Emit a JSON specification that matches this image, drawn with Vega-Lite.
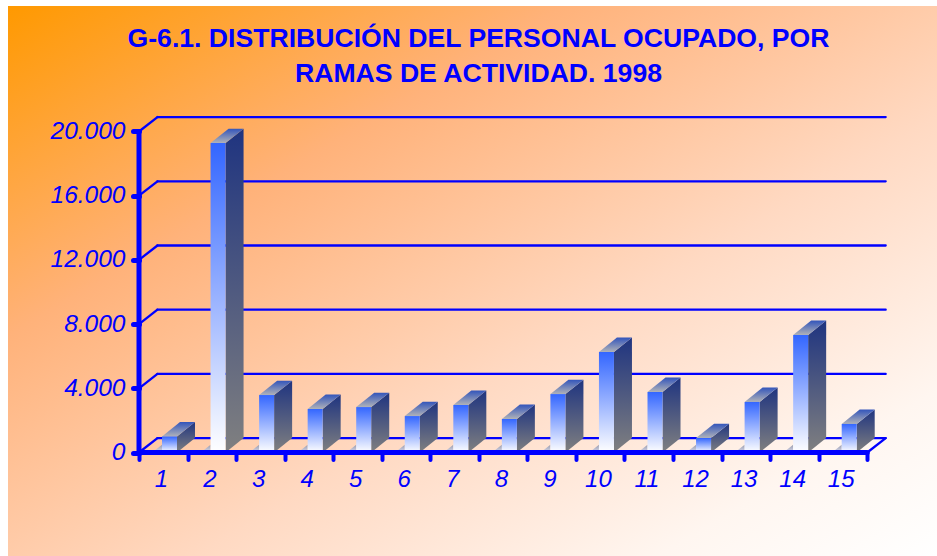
{
"$schema":"https://vega.github.io/schema/vega-lite/v6.json",
"width":937,"height":556,"autosize":{"type":"none"},"padding":0,"background":"#FFFFFF",
"config":{"view":{"stroke":null},"axis":{"grid":false,"domain":false}},
"title":{"text":["G-6.1. DISTRIBUCIÓN DEL PERSONAL OCUPADO, POR","RAMAS DE ACTIVIDAD. 1998"],"anchor":"middle","orient":"top","baseline":"top","offset":-88,"dx":10,"fontSize":26.6,"lineHeight":35.5,"font":"Liberation Sans","fontWeight":"bold","color":"#0000FF"},
"datasets":{
"bars":[{"bar":1,"value":1000},{"bar":2,"value":19280},{"bar":3,"value":3580},{"bar":4,"value":2710},{"bar":5,"value":2830},{"bar":6,"value":2270},{"bar":7,"value":2960},{"bar":8,"value":2090},{"bar":9,"value":3640},{"bar":10,"value":6260},{"bar":11,"value":3770},{"bar":12,"value":900},{"bar":13,"value":3150},{"bar":14,"value":7320},{"bar":15,"value":1780}],
"panel":[{"xa":-2.198,"xb":16.937,"ya":27817,"yb":-6448}],
"thin":[
{"x":0.88,"x2":15.88,"y":897,"y2":897},{"x":0.88,"x2":15.88,"y":4897,"y2":4897},{"x":0.88,"x2":15.88,"y":8897,"y2":8897},{"x":0.88,"x2":15.88,"y":12897,"y2":12897},{"x":0.88,"x2":15.88,"y":16897,"y2":16897},{"x":0.88,"x2":15.88,"y":20897,"y2":20897},
{"x":0.5,"x2":0.88,"y":0,"y2":897},{"x":0.5,"x2":0.88,"y":4000,"y2":4897},{"x":0.5,"x2":0.88,"y":8000,"y2":8897},{"x":0.5,"x2":0.88,"y":12000,"y2":12897},{"x":0.5,"x2":0.88,"y":16000,"y2":16897},{"x":0.5,"x2":0.88,"y":20000,"y2":20897},
{"x":15.5,"x2":15.88,"y":0,"y2":897}],
"thick":[{"x":0.5,"x2":0.5,"y":0,"y2":20000},{"x":0.5,"x2":15.5,"y":0,"y2":0}]
},
"layer":[
{"data":{"name":"panel"},
 "mark":{"type":"rect","fill":{"gradient":"linear","x1":0,"y1":0,"x2":1,"y2":1,"stops":[{"offset":0,"color":"#FF9900"},{"offset":0.3,"color":"#FFB27A"},{"offset":0.6,"color":"#FFD9C2"},{"offset":0.85,"color":"#FFF6F0"},{"offset":1,"color":"#FFFFFF"}]}},
 "encoding":{
  "x":{"field":"xa","type":"quantitative","title":null,"scale":{"domain":[-2.363,16.937],"nice":false,"zero":false},
   "axis":{"orient":"bottom","offset":-103.5,"values":[0.5,1.5,2.5,3.5,4.5,5.5,6.5,7.5,8.5,9.5,10.5,11.5,12.5,13.5,14.5,15.5],"labelExpr":"datum.value<15 ? format(datum.value+0.5,'d') : ''","labelOffset":22,"labelFont":"Liberation Sans","labelFontStyle":"italic","labelFontSize":24,"labelColor":"#0000FF","labelPadding":8,"labelOverlap":false,"labelBound":false,"labelFlush":false,"tickColor":"#0000FF","tickWidth":4,"tickSize":7,"tickCap":"round","zindex":1}},
  "x2":{"field":"xb"},
  "y":{"field":"ya","type":"quantitative","title":null,"scale":{"domain":[-6448,28191],"nice":false,"zero":false},
   "axis":{"orient":"left","offset":-139,"values":[0,4000,8000,12000,16000,20000],"labelExpr":"replace(format(datum.value,','),',','.')","labelFont":"Liberation Sans","labelFontStyle":"italic","labelFontSize":24.5,"labelColor":"#0000FF","labelPadding":8,"labelOverlap":false,"labelBound":false,"labelFlush":false,"tickColor":"#0000FF","tickWidth":5,"tickSize":6,"tickCap":"round","zindex":1}},
  "y2":{"field":"yb"}}},
{"data":{"name":"thin"},"mark":{"type":"rule","color":"#0000FF","strokeWidth":2.3,"strokeCap":"round"},
 "encoding":{"x":{"field":"x","type":"quantitative","title":null,"scale":{"domain":[-2.363,16.937],"nice":false,"zero":false}},"x2":{"field":"x2"},"y":{"field":"y","type":"quantitative","title":null,"scale":{"domain":[-6448,28191],"nice":false,"zero":false}},"y2":{"field":"y2"}}},
{"data":{"name":"bars"},
 "transform":[{"calculate":"[0,1]","as":"t"},{"flatten":["t"]},{"calculate":"datum.bar-0.026-0.2+0.2*datum.t","as":"sx"},{"calculate":"0","as":"sy"},{"calculate":"datum.t*480","as":"sy2"}],
 "mark":{"type":"area","opacity":1,"fill":{"gradient":"linear","x1":0,"y1":0,"x2":0,"y2":1,"stops":[{"offset":0,"color":"#9A9DAE"},{"offset":1,"color":"#D6D8F0"}]}},
 "encoding":{"detail":{"field":"bar"},"x":{"field":"sx","type":"quantitative","title":null,"scale":{"domain":[-2.363,16.937],"nice":false,"zero":false}},"y":{"field":"sy","type":"quantitative","title":null,"scale":{"domain":[-6448,28191],"nice":false,"zero":false},"stack":null},"y2":{"field":"sy2"}}},
{"data":{"name":"bars"},
 "transform":[{"calculate":"[0,1]","as":"t"},{"flatten":["t"]},{"calculate":"datum.bar+0.283+0.371*datum.t","as":"sx"},{"calculate":"897*datum.t","as":"sy"},{"calculate":"datum.value+897*datum.t","as":"sy2"}],
 "mark":{"type":"area","fill":{"gradient":"linear","x1":0,"y1":0,"x2":0,"y2":1,"stops":[{"offset":0,"color":"#1F3480"},{"offset":1,"color":"#808080"}]}},
 "encoding":{"detail":{"field":"bar"},"x":{"field":"sx","type":"quantitative","title":null,"scale":{"domain":[-2.363,16.937],"nice":false,"zero":false}},"y":{"field":"sy","type":"quantitative","title":null,"scale":{"domain":[-6448,28191],"nice":false,"zero":false},"stack":null},"y2":{"field":"sy2"}}},
{"data":{"name":"bars"},
 "transform":[{"calculate":"[0,1]","as":"t"},{"flatten":["t"]},{"calculate":"datum.bar-0.026+0.371*datum.t","as":"tx"},{"calculate":"datum.bar+0.283+0.371*datum.t","as":"tx2"},{"calculate":"datum.value+897*datum.t","as":"ty"}],
 "mark":{"type":"area","orient":"horizontal","fill":{"gradient":"linear","x1":0,"y1":1,"x2":0,"y2":0,"stops":[{"offset":0,"color":"#B0B2B8"},{"offset":1,"color":"#3355BB"}]}},
 "encoding":{"detail":{"field":"bar"},"y":{"field":"ty","type":"quantitative","title":null,"scale":{"domain":[-6448,28191],"nice":false,"zero":false}},"x":{"field":"tx","type":"quantitative","title":null,"scale":{"domain":[-2.363,16.937],"nice":false,"zero":false},"stack":null},"x2":{"field":"tx2"}}},
{"data":{"name":"bars"},
 "transform":[{"calculate":"datum.bar-0.026","as":"fx"},{"calculate":"datum.bar+0.283","as":"fx2"},{"calculate":"0","as":"base"}],
 "mark":{"type":"rect","fill":{"gradient":"linear","x1":0,"y1":0,"x2":0,"y2":1,"stops":[{"offset":0,"color":"#3366FF"},{"offset":1,"color":"#FFFFFF"}]}},
 "encoding":{"x":{"field":"fx","type":"quantitative","title":null,"scale":{"domain":[-2.363,16.937],"nice":false,"zero":false}},"x2":{"field":"fx2"},"y":{"field":"value","type":"quantitative","title":null,"scale":{"domain":[-6448,28191],"nice":false,"zero":false}},"y2":{"field":"base"}}},
{"data":{"name":"thick"},"mark":{"type":"rule","color":"#0000FF","strokeWidth":5,"strokeCap":"round"},
 "encoding":{"x":{"field":"x","type":"quantitative","title":null,"scale":{"domain":[-2.363,16.937],"nice":false,"zero":false}},"x2":{"field":"x2"},"y":{"field":"y","type":"quantitative","title":null,"scale":{"domain":[-6448,28191],"nice":false,"zero":false}},"y2":{"field":"y2"}}}
]}
